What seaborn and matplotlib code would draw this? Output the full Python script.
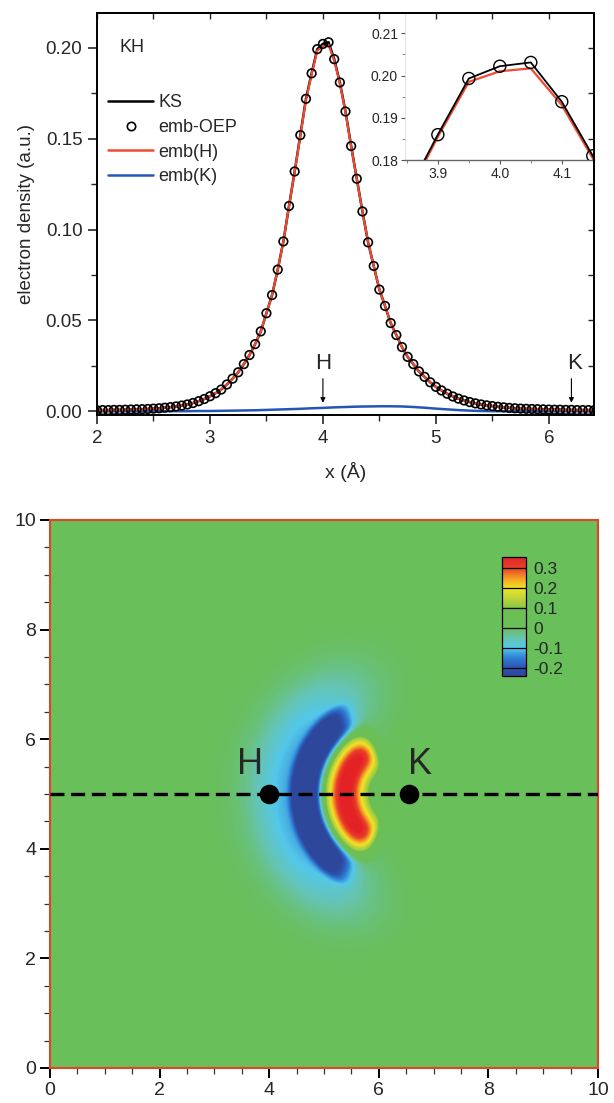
import numpy as np
import pandas as pd
import matplotlib
matplotlib.use("Agg")
import matplotlib.pyplot as plt
import seaborn as sns
from matplotlib.colors import LinearSegmentedColormap, Normalize
from matplotlib.ticker import MultipleLocator
from matplotlib.lines import Line2D

# ---------------- data: top panel (electron density along the H-K axis) ----------------
x_grid = [2.00, 2.05, 2.10, 2.15, 2.20, 2.25, 2.30, 2.35, 2.40, 2.45,
          2.50, 2.55, 2.60, 2.65, 2.70, 2.75, 2.80, 2.85, 2.90, 2.95,
          3.00, 3.05, 3.10, 3.15, 3.20, 3.25, 3.30, 3.35, 3.40, 3.45,
          3.50, 3.55, 3.60, 3.65, 3.70, 3.75, 3.80, 3.85, 3.90, 3.95,
          4.00, 4.05, 4.10, 4.15, 4.20, 4.25, 4.30, 4.35, 4.40, 4.45,
          4.50, 4.55, 4.60, 4.65, 4.70, 4.75, 4.80, 4.85, 4.90, 4.95,
          5.00, 5.05, 5.10, 5.15, 5.20, 5.25, 5.30, 5.35, 5.40, 5.45,
          5.50, 5.55, 5.60, 5.65, 5.70, 5.75, 5.80, 5.85, 5.90, 5.95,
          6.00, 6.05, 6.10, 6.15, 6.20, 6.25, 6.30, 6.35, 6.40]

ks_density = [0.0006, 0.0007, 0.0007, 0.0008, 0.0008, 0.0009, 0.0010, 0.0011, 0.0012, 0.0013,
              0.0015, 0.0017, 0.0020, 0.0023, 0.0027, 0.0032, 0.0038, 0.0046, 0.0056, 0.0068,
              0.0083, 0.0100, 0.0120, 0.0148, 0.0180, 0.0215, 0.0260, 0.0310, 0.0370, 0.0440,
              0.0540, 0.0640, 0.0780, 0.0935, 0.1130, 0.1320, 0.1520, 0.1720, 0.1860, 0.1993,
              0.2022, 0.2031, 0.1938, 0.1810, 0.1650, 0.1460, 0.1280, 0.1100, 0.0930, 0.0800,
              0.0670, 0.0580, 0.0486, 0.0420, 0.0354, 0.0300, 0.0260, 0.0220, 0.0190, 0.0160,
              0.0135, 0.0115, 0.0097, 0.0082, 0.0070, 0.0060, 0.0051, 0.0044, 0.0038, 0.0033,
              0.0029, 0.0025, 0.0022, 0.0019, 0.0017, 0.0015, 0.0014, 0.0013, 0.0012, 0.0011,
              0.0010, 0.0009, 0.0009, 0.0008, 0.0008, 0.0007, 0.0007, 0.0007, 0.0006]

emb_oep_density = [0.0006, 0.0007, 0.0007, 0.0008, 0.0008, 0.0009, 0.0010, 0.0011, 0.0012, 0.0013,
                   0.0015, 0.0017, 0.0020, 0.0023, 0.0027, 0.0032, 0.0038, 0.0046, 0.0056, 0.0068,
                   0.0083, 0.0100, 0.0120, 0.0148, 0.0180, 0.0215, 0.0260, 0.0310, 0.0370, 0.0440,
                   0.0540, 0.0640, 0.0780, 0.0935, 0.1130, 0.1320, 0.1520, 0.1720, 0.1860, 0.1993,
                   0.2022, 0.2031, 0.1938, 0.1810, 0.1650, 0.1460, 0.1280, 0.1100, 0.0930, 0.0800,
                   0.0670, 0.0580, 0.0486, 0.0420, 0.0354, 0.0300, 0.0260, 0.0220, 0.0190, 0.0160,
                   0.0135, 0.0115, 0.0097, 0.0082, 0.0070, 0.0060, 0.0051, 0.0044, 0.0038, 0.0033,
                   0.0029, 0.0025, 0.0022, 0.0019, 0.0017, 0.0015, 0.0014, 0.0013, 0.0012, 0.0011,
                   0.0010, 0.0009, 0.0009, 0.0008, 0.0008, 0.0007, 0.0007, 0.0007, 0.0006]

emb_h_density = [0.0006, 0.0007, 0.0007, 0.0008, 0.0008, 0.0009, 0.0010, 0.0011, 0.0012, 0.0013,
                 0.0015, 0.0017, 0.0020, 0.0023, 0.0027, 0.0032, 0.0038, 0.0046, 0.0056, 0.0068,
                 0.0083, 0.0100, 0.0120, 0.0148, 0.0180, 0.0215, 0.0260, 0.0310, 0.0370, 0.0440,
                 0.0540, 0.0640, 0.0780, 0.0935, 0.1130, 0.1318, 0.1515, 0.1712, 0.1855, 0.1985,
                 0.2010, 0.2017, 0.1930, 0.1804, 0.1645, 0.1457, 0.1278, 0.1099, 0.0930, 0.0800,
                 0.0670, 0.0580, 0.0486, 0.0420, 0.0354, 0.0300, 0.0260, 0.0220, 0.0190, 0.0160,
                 0.0135, 0.0115, 0.0097, 0.0082, 0.0070, 0.0060, 0.0051, 0.0044, 0.0038, 0.0033,
                 0.0029, 0.0025, 0.0022, 0.0019, 0.0017, 0.0015, 0.0014, 0.0013, 0.0012, 0.0011,
                 0.0010, 0.0009, 0.0009, 0.0008, 0.0008, 0.0007, 0.0007, 0.0007, 0.0006]

x_grid_k = [2.0, 2.1, 2.2, 2.3, 2.4, 2.5, 2.6, 2.7, 2.8, 2.9,
            3.0, 3.1, 3.2, 3.3, 3.4, 3.5, 3.6, 3.7, 3.8, 3.9,
            4.0, 4.1, 4.2, 4.3, 4.4, 4.5, 4.6, 4.7, 4.8, 4.9,
            5.0, 5.1, 5.2, 5.3, 5.4, 5.5, 5.6, 5.7, 5.8, 5.9,
            6.0, 6.1, 6.2, 6.3, 6.4]
emb_k_density = [0.0, 0.0, 0.0, 0.0, 0.0, 0.0, 0.0001, 0.0001, 0.0001, 0.0002,
                 0.0002, 0.0003, 0.0004, 0.0005, 0.0006, 0.0008, 0.0010, 0.0012, 0.0014, 0.0017,
                 0.0019, 0.0022, 0.0024, 0.0026, 0.0027, 0.0028, 0.0028, 0.0027, 0.0024, 0.0020,
                 0.0015, 0.0011, 0.0007, 0.0004, 0.0002, 0.0001, 0.0001, 0.0, 0.0, 0.0,
                 0.0, 0.0, 0.0, 0.0, 0.0]

atom_labels = ["H", "K"]
atom_x_top = [4.0, 6.2]          # arrow positions in the top panel (Å)

# ---------------- data: bottom panel (density-difference map) ----------------
site_x = [4.0, 6.55]
site_y = [5.0, 5.0]
axis_line_y = 5.0
arc_center = [6.35, 5.0]
feature_amp = [0.40, -0.26, -0.12]        # red crescent, blue crescent, cyan halo
feature_radius = [0.97, 1.68, 1.95]
feature_width = [0.37, 0.27, 0.70]
feature_radial_power = [2, 4, 2]
feature_half_angle = [1.07, 0.98, 1.2]
feature_angle_power = [8, 8, 4]

cbar_ticks = [-0.2, -0.1, 0.0, 0.1, 0.2, 0.3]
cbar_ticklabels = ["-0.2", "-0.1", "0", "0.1", "0.2", "0.3"]
cmap_levels = [-0.24, -0.20, -0.15, -0.10, -0.05, 0.00, 0.10, 0.11, 0.20, 0.25, 0.30, 0.355]
cmap_colors = ['#2d479b', '#2c54b0', '#2f80d4', '#54c8ea', '#66c4b0', '#6abf5a',
               '#6cbf52', '#98c844', '#f0e428', '#f59c22', '#e8402a', '#e42226']

# ---------------- style ----------------
sns.set_style("ticks")
plt.rcParams['font.family'] = ['Liberation Sans', 'DejaVu Sans']
plt.rcParams['axes.linewidth'] = 1.3

fig = plt.figure(figsize=(6.14, 11.03), dpi=100)
W, H = 614.0, 1103.0

# ================= top panel =================
ax = fig.add_axes([97 / W, 1 - 415 / H, 497 / W, 402 / H])
ax.set_zorder(2)
ax.patch.set_alpha(0)

sns.lineplot(x=x_grid, y=ks_density, ax=ax, color='black', lw=1.8, label='KS')
sns.lineplot(x=x_grid_k, y=emb_k_density, ax=ax, color='#2456b8', lw=1.8, label='emb(K)')
sns.lineplot(x=x_grid, y=emb_h_density, ax=ax, color='#f04a32', lw=1.6, label='emb(H)')
sns.scatterplot(x=x_grid, y=emb_oep_density, ax=ax, marker='o', s=38,
                facecolor='none', edgecolor='black', linewidth=1.2, label='emb-OEP', zorder=5)

ax.set_xlim(2.0, 6.4)
ax.set_ylim(-0.002, 0.2192)
ax.xaxis.set_major_locator(MultipleLocator(1))
ax.xaxis.set_minor_locator(MultipleLocator(0.5))
ax.yaxis.set_major_locator(MultipleLocator(0.05))
ax.yaxis.set_minor_locator(MultipleLocator(0.025))
ax.set_yticks([0.0, 0.05, 0.10, 0.15, 0.20])
ax.set_yticklabels(["0.00", "0.05", "0.10", "0.15", "0.20"])
ax.tick_params(which='major', direction='out', length=6.5, width=1.2, labelsize=13.5, pad=4)
ax.tick_params(which='minor', direction='out', length=4.5, width=1.0)
for s in ax.spines.values():
    s.set_color('black')
    s.set_linewidth(1.4)

# mirrored inward ticks on top and right
secx = ax.secondary_xaxis('top')
secx.xaxis.set_major_locator(MultipleLocator(0.5))
secx.tick_params(direction='in', length=4, width=1.0, labeltop=False)
secy = ax.secondary_yaxis('right')
secy.yaxis.set_major_locator(MultipleLocator(0.025))
secy.tick_params(direction='in', length=4, width=1.0, labelright=False)

ax.set_xlabel("x (Å)", fontsize=14, labelpad=11)
ax.set_ylabel("electron density (a.u.)", fontsize=13.5, labelpad=8)

ax.text(2.2, 0.2, "KH", fontsize=13, ha='left', va='center')

for lab, xa in zip(atom_labels, atom_x_top):
    ax.annotate('', xy=(xa, 0.0032), xytext=(xa, 0.0195),
                arrowprops=dict(arrowstyle='-|>', color='black', lw=0.8, mutation_scale=7))
    ax.text(xa + (0.03 if lab == 'K' else 0.0), 0.0205, lab, fontsize=16, ha='center', va='bottom')

handles = [Line2D([], [], color='black', lw=1.8),
           Line2D([], [], ls='none', marker='o', mfc='none', mec='black', ms=6, mew=1.2),
           Line2D([], [], color='#f04a32', lw=1.8),
           Line2D([], [], color='#2456b8', lw=1.8)]
ax.legend(handles, ['KS', 'emb-OEP', 'emb(H)', 'emb(K)'], loc='upper left',
          bbox_to_anchor=(11 / 497, 0.798), frameon=False, fontsize=13,
          handlelength=2.5, handletextpad=0.3, labelspacing=0.43,
          borderaxespad=0, borderpad=0)

# ================= inset =================
axi = fig.add_axes([405 / W, 1 - 160 / H, 189 / W, 147 / H])
axi.set_zorder(1)
axi.set_facecolor('white')
sns.lineplot(x=x_grid, y=emb_h_density, ax=axi, color='#f04a32', lw=1.6, legend=False)
sns.lineplot(x=x_grid, y=ks_density, ax=axi, color='black', lw=1.3, legend=False)
sns.scatterplot(x=x_grid, y=emb_oep_density, ax=axi, marker='o', s=75,
                facecolor='none', edgecolor='black', linewidth=1.0, legend=False, zorder=5)
axi.set_xlim(3.847, 4.152)
axi.set_ylim(0.18, 0.2148)
axi.set_xticks([3.9, 4.0, 4.1])
axi.set_xticklabels(["3.9", "4.0", "4.1"])
axi.set_yticks([0.18, 0.19, 0.20, 0.21])
axi.set_yticklabels(["0.18", "0.19", "0.20", "0.21"])
axi.xaxis.set_minor_locator(MultipleLocator(0.05))
axi.yaxis.set_minor_locator(MultipleLocator(0.005))
axi.tick_params(which='major', direction='out', length=3, width=0.8, labelsize=10, pad=2,
                color='#555555')
axi.tick_params(which='minor', direction='out', length=2, width=0.7, color='#888888')
axi.spines['top'].set_visible(False)
axi.spines['right'].set_visible(False)
axi.spines['left'].set_color('#dddddd')
axi.spines['left'].set_linewidth(0.6)
axi.spines['bottom'].set_color('#666666')
axi.spines['bottom'].set_linewidth(1.0)
axi.set_xlabel('')
axi.set_ylabel('')

# ================= bottom panel =================
axb = fig.add_axes([50 / W, 1 - 1068 / H, 548 / W, 548 / H])

gx = np.linspace(0, 10, 601)
gy = np.linspace(0, 10, 601)
XX, YY = np.meshgrid(gx, gy)
dx = XX - arc_center[0]
dy = YY - arc_center[1]
rr = np.hypot(dx, dy)
phi = np.abs(np.arctan2(dy, -dx))
field = np.zeros_like(XX)
for a, r0, w, pr, ha, pa in zip(feature_amp, feature_radius, feature_width,
                                feature_radial_power, feature_half_angle, feature_angle_power):
    field += a * np.exp(-np.abs((rr - r0) / w) ** pr) * np.exp(-(phi / ha) ** pa)

vmin, vmax = cmap_levels[0], cmap_levels[-1]
pos = [(v - vmin) / (vmax - vmin) for v in cmap_levels]
cmap = LinearSegmentedColormap.from_list('diffmap', list(zip(pos, cmap_colors)), N=512)
norm = Normalize(vmin=vmin, vmax=vmax)

im = axb.imshow(field, extent=[0, 10, 0, 10], origin='lower', cmap=cmap, norm=norm,
                interpolation='bilinear', aspect='auto', zorder=0)

axb.axhline(axis_line_y, color='black', lw=2.4, dashes=(4.2, 2.0), zorder=3)
sns.scatterplot(x=site_x, y=site_y, ax=axb, s=170, color='black', edgecolor='black',
                legend=False, zorder=5)
for lab, sx, sy in zip(atom_labels, site_x, site_y):
    axb.text(sx - (0.35 if lab == 'H' else -0.2), sy + 0.21, lab, fontsize=26,
             ha='center', va='bottom')

axb.set_xlim(0, 10)
axb.set_ylim(0, 10)
axb.xaxis.set_major_locator(MultipleLocator(2))
axb.xaxis.set_minor_locator(MultipleLocator(0.5))
axb.yaxis.set_major_locator(MultipleLocator(2))
axb.yaxis.set_minor_locator(MultipleLocator(0.5))
axb.tick_params(which='major', direction='out', length=7, width=1.4, labelsize=14, pad=3,
                color='black')
axb.tick_params(which='minor', direction='out', length=4, width=0.9, color='#333333')
for s in axb.spines.values():
    s.set_color('#e2442a')
    s.set_linewidth(1.5)

cax = fig.add_axes([502 / W, 1 - 676 / H, 24 / W, 119 / H])
cb = fig.colorbar(im, cax=cax, ticks=cbar_ticks)
cb.set_ticklabels(cbar_ticklabels)
cb.ax.tick_params(length=0, labelsize=12.5, pad=5)
cb.outline.set_edgecolor('black')
cb.outline.set_linewidth(0.9)
for t in cbar_ticks:
    cb.ax.axhline(t, color='black', lw=0.9)

fig.savefig("out.png", dpi=100, facecolor='white')
